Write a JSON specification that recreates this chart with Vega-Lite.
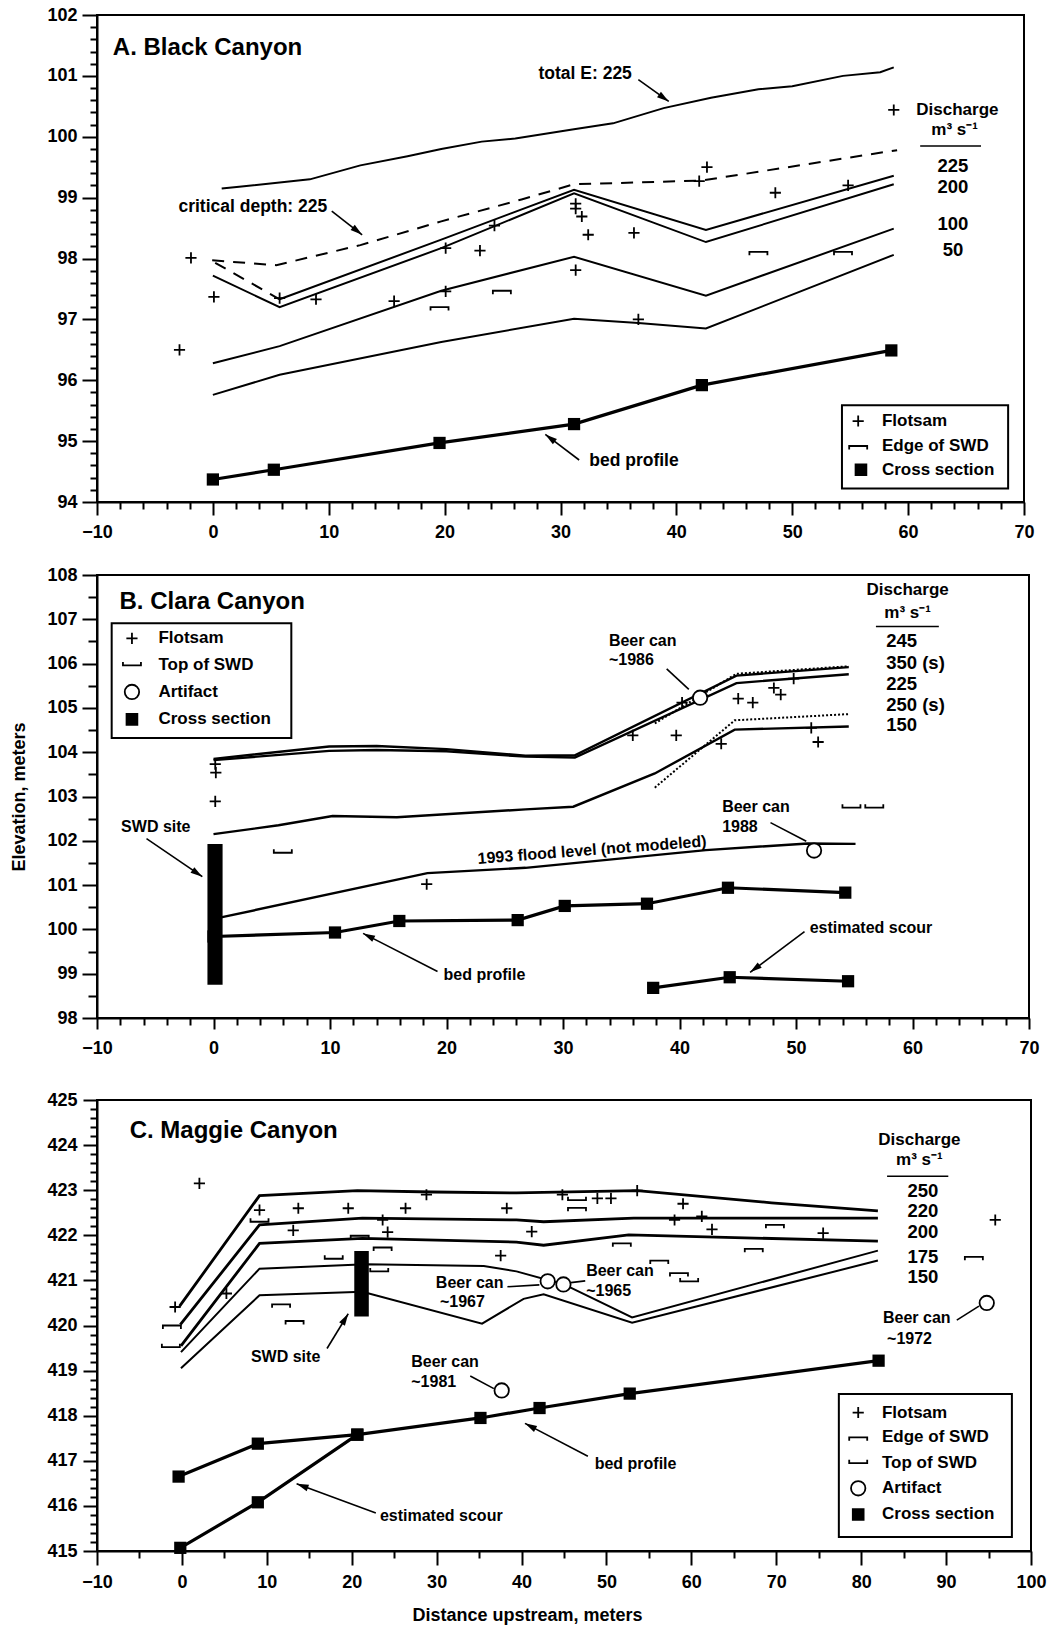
{
"$schema": "https://vega.github.io/schema/vega-lite/v6.json",
"background": "white",
"padding": {"left": 9, "top": 5, "right": 5, "bottom": 0},
"config": {
 "font": "Liberation Sans",
 "view": {"stroke": "black", "strokeWidth": 2},
 "axis": {"domainColor": "black", "domainWidth": 2, "tickColor": "black", "tickWidth": 2, "labelColor": "black", "labelFont": "Liberation Sans", "labelFontSize": 18, "labelFontWeight": "bold", "grid": false, "labelOverlap": false, "labelFlush": false, "titleFont": "Liberation Sans", "titleFontSize": 18, "titleFontWeight": "bold", "titleColor": "black", "format": "d"},
 "text": {"font": "Liberation Sans", "fontWeight": "bold", "color": "black", "baseline": "middle"},
 "concat": {"spacing": 23}
},
"datasets": {
 "A_ws": [
  {"s":"totalE","x":0.76,"y":99.15},{"s":"totalE","x":2.27,"y":99.18},{"s":"totalE","x":8.37,"y":99.3},{"s":"totalE","x":12.73,"y":99.53},{"s":"totalE","x":16.8,"y":99.68},{"s":"totalE","x":19.71,"y":99.8},{"s":"totalE","x":23.2,"y":99.92},{"s":"totalE","x":26.1,"y":99.97},{"s":"totalE","x":31.02,"y":100.12},{"s":"totalE","x":34.53,"y":100.22},{"s":"totalE","x":38.9,"y":100.47},{"s":"totalE","x":42.99,"y":100.64},{"s":"totalE","x":47.08,"y":100.78},{"s":"totalE","x":50,"y":100.83},{"s":"totalE","x":54.38,"y":101.0},{"s":"totalE","x":57.59,"y":101.06},{"s":"totalE","x":58.76,"y":101.14},
  {"s":"225","x":5.76,"y":97.33},{"s":"225","x":19.71,"y":98.31},{"s":"225","x":31.17,"y":99.13},{"s":"225","x":42.55,"y":98.47},{"s":"225","x":58.76,"y":99.36},
  {"s":"200","x":0,"y":97.72},{"s":"200","x":5.76,"y":97.2},{"s":"200","x":19.71,"y":98.17},{"s":"200","x":31.17,"y":99.07},{"s":"200","x":42.55,"y":98.27},{"s":"200","x":58.76,"y":99.22},
  {"s":"100","x":0,"y":96.28},{"s":"100","x":5.76,"y":96.56},{"s":"100","x":19.71,"y":97.47},{"s":"100","x":31.17,"y":98.03},{"s":"100","x":42.55,"y":97.39},{"s":"100","x":58.76,"y":98.49},
  {"s":"50","x":0,"y":95.76},{"s":"50","x":5.76,"y":96.09},{"s":"50","x":19.71,"y":96.63},{"s":"50","x":31.17,"y":97.01},{"s":"50","x":36.72,"y":96.94},{"s":"50","x":42.55,"y":96.85},{"s":"50","x":58.76,"y":98.06}
 ],
 "A_dash": [
  {"s":"crit","x":-0.06,"y":97.97},{"s":"crit","x":5.47,"y":97.89},{"s":"crit","x":12.73,"y":98.22},{"s":"crit","x":19.71,"y":98.61},{"s":"crit","x":26.64,"y":98.97},{"s":"crit","x":31.17,"y":99.22},{"s":"crit","x":42.2,"y":99.28},{"s":"crit","x":59.05,"y":99.78},
  {"s":"crit2","x":0.2,"y":97.93},{"s":"crit2","x":5.76,"y":97.33}
 ],
 "A_bed": [
  {"s":"bed","x":0,"y":94.37},{"s":"bed","x":5.26,"y":94.53},{"s":"bed","x":19.56,"y":94.97},{"s":"bed","x":31.17,"y":95.28},{"s":"bed","x":42.2,"y":95.92},{"s":"bed","x":58.55,"y":96.49}
 ],
 "A_pts": [
  {"k":"Flotsam","x":-1.89,"y":98.01},{"k":"Flotsam","x":0.09,"y":97.37},{"k":"Flotsam","x":-2.88,"y":96.5},{"k":"Flotsam","x":5.76,"y":97.35},{"k":"Flotsam","x":8.9,"y":97.33},{"k":"Flotsam","x":15.64,"y":97.3},{"k":"Flotsam","x":20.09,"y":98.17},{"k":"Flotsam","x":23.05,"y":98.13},{"k":"Flotsam","x":24.3,"y":98.54},{"k":"Flotsam","x":20.09,"y":97.46},{"k":"Flotsam","x":31.31,"y":98.9},{"k":"Flotsam","x":31.31,"y":98.82},{"k":"Flotsam","x":31.84,"y":98.69},{"k":"Flotsam","x":32.39,"y":98.39},{"k":"Flotsam","x":36.34,"y":98.42},{"k":"Flotsam","x":31.31,"y":97.81},{"k":"Flotsam","x":36.72,"y":97.0},{"k":"Flotsam","x":42.64,"y":99.5},{"k":"Flotsam","x":41.97,"y":99.27},{"k":"Flotsam","x":48.54,"y":99.08},{"k":"Flotsam","x":54.82,"y":99.2},{"k":"Flotsam","x":58.76,"y":100.44},
  {"k":"Edge of SWD","x":19.56,"y":97.2},{"k":"Edge of SWD","x":24.94,"y":97.47},{"k":"Edge of SWD","x":47.08,"y":98.11},{"k":"Edge of SWD","x":54.38,"y":98.11},
  {"k":"Flotsam","x":55.69,"y":95.33},{"k":"Edge of SWD","x":55.69,"y":94.92},{"k":"Cross section","x":55.93,"y":94.53}
 ],
 "A_box": [{"x":54.29,"x2":68.63,"y":95.59,"y2":94.22}],
 "A_line1": [{"x":61.04,"x2":66.29,"y":99.85}],
 "A_arr": [
  {"id":"a1","x":39.34,"y":100.58,"x2":36.72,"y2":100.94},
  {"id":"a2","x":12.88,"y":98.39,"x2":10.26,"y2":98.78},
  {"id":"a3","x":28.69,"y":95.11,"x2":31.61,"y2":94.69}
 ],
 "A_txt": [
  {"role":"title","x":-8.63,"y":101.45,"text":"A. Black Canyon"},
  {"role":"note","x":28.1,"y":101.03,"text":"total E: 225"},
  {"role":"note","x":-2.97,"y":98.85,"text":"critical depth: 225"},
  {"role":"note","x":32.48,"y":94.67,"text":"bed profile"},
  {"role":"disc","x":64.25,"y":100.44,"text":"Discharge"},
  {"role":"disc","x":64.01,"y":100.11,"text":"m³ s⁻¹"},
  {"role":"num","x":63.87,"y":99.52,"text":"225"},
  {"role":"num","x":63.87,"y":99.18,"text":"200"},
  {"role":"num","x":63.87,"y":98.56,"text":"100"},
  {"role":"num","x":63.87,"y":98.14,"text":"50"},
  {"role":"leg","x":57.74,"y":95.33,"text":"Flotsam"},
  {"role":"leg","x":57.74,"y":94.92,"text":"Edge of SWD"},
  {"role":"leg","x":57.74,"y":94.53,"text":"Cross section"}
 ],
 "B_ws": [
  {"s":"245","x":0,"y":103.85},{"s":"245","x":9.93,"y":104.13},{"s":"245","x":14,"y":104.14},{"s":"245","x":20,"y":104.07},{"s":"245","x":26.78,"y":103.92},{"s":"245","x":31.02,"y":103.93},{"s":"245","x":44.89,"y":105.73},{"s":"245","x":54.53,"y":105.92},
  {"s":"225","x":0,"y":103.82},{"s":"225","x":9.93,"y":104.03},{"s":"225","x":14,"y":104.05},{"s":"225","x":20,"y":104.02},{"s":"225","x":26.78,"y":103.9},{"s":"225","x":31.02,"y":103.88},{"s":"225","x":44.89,"y":105.56},{"s":"225","x":54.53,"y":105.76},
  {"s":"150","x":0,"y":102.15},{"s":"150","x":5.58,"y":102.35},{"s":"150","x":10.22,"y":102.56},{"s":"150","x":15.74,"y":102.53},{"s":"150","x":26.78,"y":102.71},{"s":"150","x":30.88,"y":102.77},{"s":"150","x":37.88,"y":103.52},{"s":"150","x":44.74,"y":104.51},{"s":"150","x":54.53,"y":104.58},
  {"s":"flood","x":0.64,"y":100.27},{"s":"flood","x":18.36,"y":101.27},{"s":"flood","x":26.78,"y":101.39},{"s":"flood","x":42.26,"y":101.79},{"s":"flood","x":51.02,"y":101.94},{"s":"flood","x":55.11,"y":101.93}
 ],
 "B_dot": [
  {"s":"350s","x":37.88,"y":104.65},{"s":"350s","x":44.89,"y":105.77},{"s":"350s","x":54.53,"y":105.94},
  {"s":"250s","x":37.88,"y":103.2},{"s":"250s","x":44.74,"y":104.72},{"s":"250s","x":54.53,"y":104.86}
 ],
 "B_bed": [
  {"s":"bed","x":0,"y":99.84},{"s":"bed","x":10.43,"y":99.93},{"s":"bed","x":15.95,"y":100.19},{"s":"bed","x":26.11,"y":100.21},{"s":"bed","x":30.15,"y":100.53},{"s":"bed","x":37.21,"y":100.58},{"s":"bed","x":44.16,"y":100.94},{"s":"bed","x":54.23,"y":100.83},
  {"s":"scour","x":37.74,"y":98.68},{"s":"scour","x":44.31,"y":98.92},{"s":"scour","x":54.47,"y":98.83}
 ],
 "B_pts": [
  {"k":"Flotsam","x":0.15,"y":103.73},{"k":"Flotsam","x":0.2,"y":103.54},{"k":"Flotsam","x":0.15,"y":102.89},{"k":"Flotsam","x":18.3,"y":101.02},{"k":"Flotsam","x":35.99,"y":104.38},{"k":"Flotsam","x":39.72,"y":104.38},{"k":"Flotsam","x":40.22,"y":105.12},{"k":"Flotsam","x":43.58,"y":104.19},{"k":"Flotsam","x":45.04,"y":105.21},{"k":"Flotsam","x":46.29,"y":105.12},{"k":"Flotsam","x":48.1,"y":105.45},{"k":"Flotsam","x":48.69,"y":105.3},{"k":"Flotsam","x":49.8,"y":105.66},{"k":"Flotsam","x":51.31,"y":104.55},{"k":"Flotsam","x":51.9,"y":104.23},
  {"k":"Top of SWD","x":5.95,"y":101.73},{"k":"Top of SWD","x":54.76,"y":102.75},{"k":"Top of SWD","x":56.72,"y":102.75},
  {"k":"Artifact","x":41.77,"y":105.23},{"k":"Artifact","x":51.55,"y":101.78},
  {"k":"Flotsam","x":-7.0,"y":106.57},{"k":"Top of SWD","x":-7.0,"y":105.96},{"k":"Artifact","x":-7.0,"y":105.36},{"k":"Cross section","x":-7.0,"y":104.74}
 ],
 "B_bar": [{"x":-0.52,"x2":0.78,"y":101.93,"y2":98.75}],
 "B_box": [{"x":-8.74,"x2":6.68,"y":106.91,"y2":104.32}],
 "B_line1": [{"x":56.86,"x2":62.26,"y":106.84}],
 "B_arr": [
  {"id":"b1","x":-0.96,"y":101.19,"x2":-5.75,"y2":102.05},
  {"id":"b2","x":12.84,"y":99.91,"x2":19.23,"y2":99.05},
  {"id":"b3","x":46.06,"y":99.03,"x2":50.73,"y2":99.95},
  {"id":"c1","x":40.8,"y":105.42,"x2":38.9,"y2":105.88},
  {"id":"c2","x":50.88,"y":101.99,"x2":47.81,"y2":102.41}
 ],
 "B_txt": [
  {"role":"title","x":-8.07,"y":107.38,"text":"B. Clara Canyon"},
  {"role":"leg","x":-4.73,"y":106.57,"text":"Flotsam"},
  {"role":"leg","x":-4.73,"y":105.96,"text":"Top of SWD"},
  {"role":"leg","x":-4.73,"y":105.36,"text":"Artifact"},
  {"role":"leg","x":-4.73,"y":104.74,"text":"Cross section"},
  {"role":"note","x":-7.93,"y":102.32,"text":"SWD site"},
  {"role":"note","x":19.75,"y":98.98,"text":"bed profile"},
  {"role":"note","x":51.17,"y":100.03,"text":"estimated scour"},
  {"role":"note","x":33.94,"y":106.52,"text":"Beer can"},
  {"role":"note","x":33.94,"y":106.07,"text":"~1986"},
  {"role":"note","x":43.66,"y":102.77,"text":"Beer can"},
  {"role":"note","x":43.66,"y":102.32,"text":"1988"},
  {"role":"flood","x":32.49,"y":101.79,"text":"1993 flood level (not modeled)"},
  {"role":"disc","x":59.58,"y":107.67,"text":"Discharge"},
  {"role":"disc","x":59.58,"y":107.14,"text":"m³ s⁻¹"},
  {"role":"numL","x":57.74,"y":106.51,"text":"245"},
  {"role":"numL","x":57.74,"y":106.02,"text":"350 (s)"},
  {"role":"numL","x":57.74,"y":105.53,"text":"225"},
  {"role":"numL","x":57.74,"y":105.06,"text":"250 (s)"},
  {"role":"numL","x":57.74,"y":104.61,"text":"150"}
 ],
 "C_thick": [
  {"s":"250","x":-0.27,"y":420.43},{"s":"250","x":9.14,"y":422.88},{"s":"250","x":20.66,"y":422.99},{"s":"250","x":29.6,"y":422.96},{"s":"250","x":39.4,"y":422.94},{"s":"250","x":53.62,"y":422.99},{"s":"250","x":69.44,"y":422.72},{"s":"250","x":81.97,"y":422.54},
  {"s":"220","x":-0.19,"y":420.02},{"s":"220","x":9.14,"y":422.23},{"s":"220","x":21.26,"y":422.38},{"s":"220","x":39.4,"y":422.34},{"s":"220","x":42.6,"y":422.3},{"s":"220","x":53.22,"y":422.38},{"s":"220","x":81.97,"y":422.38},
  {"s":"200","x":-0.11,"y":419.55},{"s":"200","x":9.14,"y":421.82},{"s":"200","x":21.26,"y":421.93},{"s":"200","x":39.4,"y":421.85},{"s":"200","x":42.6,"y":421.78},{"s":"200","x":52.62,"y":422.01},{"s":"200","x":81.97,"y":421.87}
 ],
 "C_thin": [
  {"s":"175","x":-0.11,"y":419.41},{"s":"175","x":9.14,"y":421.26},{"s":"175","x":21.65,"y":421.36},{"s":"175","x":35.55,"y":421.32},{"s":"175","x":39.4,"y":421.2},{"s":"175","x":45.0,"y":420.91},{"s":"175","x":53.02,"y":420.18},{"s":"175","x":81.97,"y":421.66},
  {"s":"150","x":-0.11,"y":419.05},{"s":"150","x":9.14,"y":420.67},{"s":"150","x":21.26,"y":420.75},{"s":"150","x":35.35,"y":420.04},{"s":"150","x":40.24,"y":420.59},{"s":"150","x":42.6,"y":420.69},{"s":"150","x":53.02,"y":420.06},{"s":"150","x":81.97,"y":421.44}
 ],
 "C_bed": [
  {"s":"bed","x":-0.39,"y":416.65},{"s":"bed","x":8.94,"y":417.38},{"s":"bed","x":20.66,"y":417.58},{"s":"bed","x":35.16,"y":417.95},{"s":"bed","x":42.12,"y":418.17},{"s":"bed","x":52.74,"y":418.49},{"s":"bed","x":82.05,"y":419.22},
  {"s":"scour","x":-0.19,"y":415.07},{"s":"scour","x":8.94,"y":416.08},{"s":"scour","x":20.66,"y":417.58}
 ],
 "C_pts": [
  {"k":"Flotsam","x":2.06,"y":423.15},{"k":"Flotsam","x":-0.8,"y":420.41},{"k":"Flotsam","x":5.24,"y":420.71},{"k":"Flotsam","x":9.14,"y":422.56},{"k":"Flotsam","x":13.71,"y":422.6},{"k":"Flotsam","x":19.59,"y":422.6},{"k":"Flotsam","x":26.34,"y":422.6},{"k":"Flotsam","x":28.8,"y":422.9},{"k":"Flotsam","x":13.11,"y":422.11},{"k":"Flotsam","x":23.64,"y":422.34},{"k":"Flotsam","x":24.23,"y":422.07},{"k":"Flotsam","x":37.54,"y":421.55},{"k":"Flotsam","x":38.26,"y":422.6},{"k":"Flotsam","x":44.81,"y":422.9},{"k":"Flotsam","x":48.93,"y":422.82},{"k":"Flotsam","x":50.53,"y":422.82},{"k":"Flotsam","x":53.62,"y":422.99},{"k":"Flotsam","x":59.02,"y":422.7},{"k":"Flotsam","x":58.02,"y":422.34},{"k":"Flotsam","x":61.23,"y":422.42},{"k":"Flotsam","x":62.43,"y":422.13},{"k":"Flotsam","x":41.2,"y":422.08},{"k":"Flotsam","x":75.52,"y":422.05},{"k":"Flotsam","x":95.79,"y":422.34},
  {"k":"Edge of SWD","x":-1.18,"y":420.0},{"k":"Edge of SWD","x":11.68,"y":420.47},{"k":"Edge of SWD","x":13.27,"y":420.1},{"k":"Edge of SWD","x":20.94,"y":421.99},{"k":"Edge of SWD","x":23.64,"y":421.73},{"k":"Edge of SWD","x":46.53,"y":422.61},{"k":"Edge of SWD","x":51.81,"y":421.82},{"k":"Edge of SWD","x":56.22,"y":421.44},{"k":"Edge of SWD","x":58.54,"y":421.16},{"k":"Edge of SWD","x":69.84,"y":422.23},{"k":"Edge of SWD","x":67.35,"y":421.7},{"k":"Edge of SWD","x":93.27,"y":421.52},
  {"k":"Top of SWD","x":-1.3,"y":419.52},{"k":"Top of SWD","x":17.88,"y":421.48},{"k":"Top of SWD","x":23.24,"y":421.2},{"k":"Top of SWD","x":9.14,"y":422.3},{"k":"Top of SWD","x":46.53,"y":422.78},{"k":"Top of SWD","x":59.74,"y":420.98},
  {"k":"Artifact","x":43.08,"y":420.98},{"k":"Artifact","x":44.93,"y":420.91},{"k":"Artifact","x":37.66,"y":418.56},{"k":"Artifact","x":94.79,"y":420.5},
  {"k":"Flotsam","x":79.65,"y":418.07},{"k":"Edge of SWD","x":79.65,"y":417.52},{"k":"Top of SWD","x":79.65,"y":416.95},{"k":"Artifact","x":79.65,"y":416.39},{"k":"Cross section","x":79.65,"y":415.81}
 ],
 "C_bar": [{"x":20.3,"x2":22.01,"y":421.65,"y2":420.2}],
 "C_box": [{"x":77.37,"x2":97.75,"y":418.48,"y2":415.31}],
 "C_line1": [{"x":83.05,"x2":90.26,"y":423.31}],
 "C_arr": [
  {"id":"e1","x":19.59,"y":420.26,"x2":17.09,"y2":419.49},
  {"id":"e2","x":40.4,"y":417.83,"x2":47.81,"y2":417.1},
  {"id":"e3","x":13.51,"y":416.49,"x2":22.84,"y2":415.84},
  {"id":"c1","x":42.1,"y":420.9,"x2":38.34,"y2":420.86},
  {"id":"c2","x":45.8,"y":420.95,"x2":47.5,"y2":420.99},
  {"id":"c3","x":93.87,"y":420.43,"x2":91.26,"y2":420.12},
  {"id":"c4","x":36.74,"y":418.6,"x2":33.96,"y2":418.88}
 ],
 "C_txt": [
  {"role":"title","x":-6.15,"y":424.31,"text":"C. Maggie Canyon"},
  {"role":"note","x":8.13,"y":419.31,"text":"SWD site"},
  {"role":"note","x":29.91,"y":420.95,"text":"Beer can"},
  {"role":"note","x":30.39,"y":420.51,"text":"~1967"},
  {"role":"note","x":47.61,"y":421.21,"text":"Beer can"},
  {"role":"note","x":47.61,"y":420.77,"text":"~1965"},
  {"role":"note","x":82.57,"y":420.16,"text":"Beer can"},
  {"role":"note","x":83.05,"y":419.71,"text":"~1972"},
  {"role":"note","x":27.01,"y":419.19,"text":"Beer can"},
  {"role":"note","x":27.01,"y":418.74,"text":"~1981"},
  {"role":"note","x":48.61,"y":416.93,"text":"bed profile"},
  {"role":"note","x":23.32,"y":415.78,"text":"estimated scour"},
  {"role":"disc","x":86.86,"y":424.11,"text":"Discharge"},
  {"role":"disc","x":86.86,"y":423.68,"text":"m³ s⁻¹"},
  {"role":"num","x":87.26,"y":422.99,"text":"250"},
  {"role":"num","x":87.26,"y":422.54,"text":"220"},
  {"role":"num","x":87.26,"y":422.08,"text":"200"},
  {"role":"num","x":87.26,"y":421.52,"text":"175"},
  {"role":"num","x":87.26,"y":421.08,"text":"150"},
  {"role":"leg","x":82.45,"y":418.07,"text":"Flotsam"},
  {"role":"leg","x":82.45,"y":417.52,"text":"Edge of SWD"},
  {"role":"leg","x":82.45,"y":416.95,"text":"Top of SWD"},
  {"role":"leg","x":82.45,"y":416.39,"text":"Artifact"},
  {"role":"leg","x":82.45,"y":415.81,"text":"Cross section"}
 ]
},
"vconcat": [
 {
  "width": 927, "height": 487,
  "resolve": {"axis": {"x": "independent", "y": "independent"}},
  "encoding": {
   "x": {"field": "x", "type": "quantitative", "scale": {"domain": [-10, 70], "nice": false, "zero": false}, "axis": null},
   "y": {"field": "y", "type": "quantitative", "scale": {"domain": [94, 102], "nice": false, "zero": false}, "axis": null}
  },
  "layer": [
   {"data": {"name": "A_ws"}, "mark": {"type": "line", "color": "black", "strokeWidth": 2},
    "encoding": {"detail": {"field": "s"},
     "x": {"field": "x", "type": "quantitative", "scale": {"domain": [-10, 70], "nice": false, "zero": false}, "axis": {"orient": "bottom", "title": null, "values": [-10,0,10,20,30,40,50,60,70], "tickSize": 13, "labelPadding": 8}},
     "y": {"field": "y", "type": "quantitative", "scale": {"domain": [94, 102], "nice": false, "zero": false}, "axis": {"orient": "left", "title": null, "values": [94,95,96,97,98,99,100,101,102], "tickSize": 15, "labelPadding": 5}}}},
   {"data": {"name": "A_dash"}, "mark": {"type": "line", "color": "black", "strokeWidth": 2, "strokeDash": [12, 9]},
    "encoding": {"detail": {"field": "s"},
     "x": {"field": "x", "type": "quantitative", "scale": {"domain": [-10, 70], "nice": false, "zero": false}, "axis": {"orient": "bottom", "title": null, "values": [-8,-6,-4,-2,2,4,6,8,12,14,16,18,22,24,26,28,32,34,36,38,42,44,46,48,52,54,56,58,62,64,66,68], "tickSize": 7, "labels": false, "domain": false}},
     "y": {"field": "y", "type": "quantitative", "scale": {"domain": [94, 102], "nice": false, "zero": false}, "axis": {"orient": "left", "title": null, "values": [94.2,94.4,94.6,94.8,95.2,95.4,95.6,95.8,96.2,96.4,96.6,96.8,97.2,97.4,97.6,97.8,98.2,98.4,98.6,98.8,99.2,99.4,99.6,99.8,100.2,100.4,100.6,100.8,101.2,101.4,101.6,101.8], "tickSize": 7, "labels": false, "domain": false}}}},
   {"data": {"name": "A_bed"}, "mark": {"type": "line", "color": "black", "strokeWidth": 3.2}, "encoding": {"detail": {"field": "s"}}},
   {"data": {"name": "A_bed"}, "mark": {"type": "square", "color": "black", "filled": true, "opacity": 1, "size": 150}},
   {"data": {"name": "A_box"}, "mark": {"type": "rect", "fill": "white", "stroke": "black", "strokeWidth": 2}, "encoding": {"x2": {"field": "x2"}, "y2": {"field": "y2"}}},
   {"data": {"name": "A_pts"}, "mark": {"type": "point", "filled": false, "stroke": "black", "strokeWidth": 1.8, "opacity": 1, "size": 324},
    "encoding": {
     "shape": {"field": "k", "type": "nominal", "legend": null, "scale": {"domain": ["Flotsam","Edge of SWD","Top of SWD","Artifact","Cross section"], "range": ["M-0.62,0L0.62,0M0,-0.62L0,0.62","M-1,0.38L-1,0L1,0L1,0.38","M-1,-0.38L-1,0L1,0L1,-0.38","M-0.8,0A0.8,0.8,0,1,0,0.8,0A0.8,0.8,0,1,0,-0.8,0Z","M-0.6,-0.6L0.6,-0.6L0.6,0.6L-0.6,0.6Z"]}},
     "fill": {"field": "k", "type": "nominal", "legend": null, "scale": {"domain": ["Flotsam","Edge of SWD","Top of SWD","Artifact","Cross section"], "range": ["transparent","transparent","transparent","white","black"]}}
    }},
   {"data": {"name": "A_arr"}, "mark": {"type": "rule", "color": "black", "strokeWidth": 1.6}, "encoding": {"x2": {"field": "x2"}, "y2": {"field": "y2"}}},
   {"data": {"name": "A_arr"}, "transform": [{"filter": {"field": "id", "equal": "a1"}}], "mark": {"type": "point", "shape": "M0,0L0.28,1L-0.28,1Z", "size": 576, "angle": 125.8, "filled": true, "color": "black", "opacity": 1, "strokeWidth": 0}},
   {"data": {"name": "A_arr"}, "transform": [{"filter": {"field": "id", "equal": "a2"}}], "mark": {"type": "point", "shape": "M0,0L0.28,1L-0.28,1Z", "size": 576, "angle": 128.1, "filled": true, "color": "black", "opacity": 1, "strokeWidth": 0}},
   {"data": {"name": "A_arr"}, "transform": [{"filter": {"field": "id", "equal": "a3"}}], "mark": {"type": "point", "shape": "M0,0L0.28,1L-0.28,1Z", "size": 576, "angle": -52.9, "filled": true, "color": "black", "opacity": 1, "strokeWidth": 0}},
   {"data": {"name": "A_line1"}, "mark": {"type": "rule", "color": "black", "strokeWidth": 1.5}, "encoding": {"x2": {"field": "x2"}}},
   {"data": {"name": "A_txt"}, "transform": [{"filter": {"field": "role", "equal": "title"}}], "mark": {"type": "text", "align": "left", "fontSize": 24}, "encoding": {"text": {"field": "text"}}},
   {"data": {"name": "A_txt"}, "transform": [{"filter": {"field": "role", "equal": "note"}}], "mark": {"type": "text", "align": "left", "fontSize": 17.5}, "encoding": {"text": {"field": "text"}}},
   {"data": {"name": "A_txt"}, "transform": [{"filter": {"field": "role", "equal": "disc"}}], "mark": {"type": "text", "align": "center", "fontSize": 17}, "encoding": {"text": {"field": "text"}}},
   {"data": {"name": "A_txt"}, "transform": [{"filter": {"field": "role", "equal": "num"}}], "mark": {"type": "text", "align": "center", "fontSize": 18.5}, "encoding": {"text": {"field": "text"}}},
   {"data": {"name": "A_txt"}, "transform": [{"filter": {"field": "role", "equal": "leg"}}], "mark": {"type": "text", "align": "left", "fontSize": 17}, "encoding": {"text": {"field": "text"}}}
  ]
 },
 {
  "width": 932, "height": 443,
  "resolve": {"axis": {"x": "independent", "y": "independent"}},
  "encoding": {
   "x": {"field": "x", "type": "quantitative", "scale": {"domain": [-10, 70], "nice": false, "zero": false}, "axis": null},
   "y": {"field": "y", "type": "quantitative", "scale": {"domain": [98, 108], "nice": false, "zero": false}, "axis": null}
  },
  "layer": [
   {"data": {"name": "B_ws"}, "mark": {"type": "line", "color": "black", "strokeWidth": 2.4},
    "encoding": {"detail": {"field": "s"},
     "x": {"field": "x", "type": "quantitative", "scale": {"domain": [-10, 70], "nice": false, "zero": false}, "axis": {"orient": "bottom", "title": " ", "titleFontSize": 8, "titlePadding": 1, "values": [-10,0,10,20,30,40,50,60,70], "tickSize": 11, "labelPadding": 10}},
     "y": {"field": "y", "type": "quantitative", "scale": {"domain": [98, 108], "nice": false, "zero": false}, "axis": {"orient": "left", "title": "Elevation, meters", "titlePadding": 18, "values": [98,99,100,101,102,103,104,105,106,107,108], "tickSize": 15, "labelPadding": 5}}}},
   {"data": {"name": "B_dot"}, "mark": {"type": "line", "color": "black", "strokeWidth": 2, "strokeDash": [2, 2]},
    "encoding": {"detail": {"field": "s"},
     "x": {"field": "x", "type": "quantitative", "scale": {"domain": [-10, 70], "nice": false, "zero": false}, "axis": {"orient": "bottom", "title": null, "values": [-8,-6,-4,-2,2,4,6,8,12,14,16,18,22,24,26,28,32,34,36,38,42,44,46,48,52,54,56,58,62,64,66,68], "tickSize": 7, "labels": false, "domain": false}},
     "y": {"field": "y", "type": "quantitative", "scale": {"domain": [98, 108], "nice": false, "zero": false}, "axis": {"orient": "left", "title": null, "values": [98.5,99.5,100.5,101.5,102.5,103.5,104.5,105.5,106.5,107.5], "tickSize": 9, "labels": false, "domain": false}}}},
   {"data": {"name": "B_bed"}, "mark": {"type": "line", "color": "black", "strokeWidth": 3.2}, "encoding": {"detail": {"field": "s"}}},
   {"data": {"name": "B_bed"}, "mark": {"type": "square", "color": "black", "filled": true, "opacity": 1, "size": 150}},
   {"data": {"name": "B_bar"}, "mark": {"type": "rect", "fill": "black"}, "encoding": {"x2": {"field": "x2"}, "y2": {"field": "y2"}}},
   {"data": {"name": "B_box"}, "mark": {"type": "rect", "fill": "white", "stroke": "black", "strokeWidth": 2}, "encoding": {"x2": {"field": "x2"}, "y2": {"field": "y2"}}},
   {"data": {"name": "B_pts"}, "mark": {"type": "point", "filled": false, "stroke": "black", "strokeWidth": 1.8, "opacity": 1, "size": 324},
    "encoding": {
     "shape": {"field": "k", "type": "nominal", "legend": null, "scale": {"domain": ["Flotsam","Edge of SWD","Top of SWD","Artifact","Cross section"], "range": ["M-0.62,0L0.62,0M0,-0.62L0,0.62","M-1,0.38L-1,0L1,0L1,0.38","M-1,-0.38L-1,0L1,0L1,-0.38","M-0.8,0A0.8,0.8,0,1,0,0.8,0A0.8,0.8,0,1,0,-0.8,0Z","M-0.6,-0.6L0.6,-0.6L0.6,0.6L-0.6,0.6Z"]}},
     "fill": {"field": "k", "type": "nominal", "legend": null, "scale": {"domain": ["Flotsam","Edge of SWD","Top of SWD","Artifact","Cross section"], "range": ["transparent","transparent","transparent","white","black"]}}
    }},
   {"data": {"name": "B_arr"}, "mark": {"type": "rule", "color": "black", "strokeWidth": 1.6}, "encoding": {"x2": {"field": "x2"}, "y2": {"field": "y2"}}},
   {"data": {"name": "B_arr"}, "transform": [{"filter": {"field": "id", "equal": "b1"}}], "mark": {"type": "point", "shape": "M0,0L0.28,1L-0.28,1Z", "size": 576, "angle": 124.4, "filled": true, "color": "black", "opacity": 1, "strokeWidth": 0}},
   {"data": {"name": "B_arr"}, "transform": [{"filter": {"field": "id", "equal": "b2"}}], "mark": {"type": "point", "shape": "M0,0L0.28,1L-0.28,1Z", "size": 576, "angle": -62.9, "filled": true, "color": "black", "opacity": 1, "strokeWidth": 0}},
   {"data": {"name": "B_arr"}, "transform": [{"filter": {"field": "id", "equal": "b3"}}], "mark": {"type": "point", "shape": "M0,0L0.28,1L-0.28,1Z", "size": 576, "angle": -126.9, "filled": true, "color": "black", "opacity": 1, "strokeWidth": 0}},
   {"data": {"name": "B_line1"}, "mark": {"type": "rule", "color": "black", "strokeWidth": 1.5}, "encoding": {"x2": {"field": "x2"}}},
   {"data": {"name": "B_txt"}, "transform": [{"filter": {"field": "role", "equal": "title"}}], "mark": {"type": "text", "align": "left", "fontSize": 24}, "encoding": {"text": {"field": "text"}}},
   {"data": {"name": "B_txt"}, "transform": [{"filter": {"field": "role", "equal": "leg"}}], "mark": {"type": "text", "align": "left", "fontSize": 17}, "encoding": {"text": {"field": "text"}}},
   {"data": {"name": "B_txt"}, "transform": [{"filter": {"field": "role", "equal": "note"}}], "mark": {"type": "text", "align": "left", "fontSize": 16}, "encoding": {"text": {"field": "text"}}},
   {"data": {"name": "B_txt"}, "transform": [{"filter": {"field": "role", "equal": "flood"}}], "mark": {"type": "text", "align": "center", "fontSize": 16, "angle": -4.4}, "encoding": {"text": {"field": "text"}}},
   {"data": {"name": "B_txt"}, "transform": [{"filter": {"field": "role", "equal": "disc"}}], "mark": {"type": "text", "align": "center", "fontSize": 17}, "encoding": {"text": {"field": "text"}}},
   {"data": {"name": "B_txt"}, "transform": [{"filter": {"field": "role", "equal": "numL"}}], "mark": {"type": "text", "align": "left", "fontSize": 18.5}, "encoding": {"text": {"field": "text"}}}
  ]
 },
 {
  "width": 934, "height": 451,
  "resolve": {"axis": {"x": "independent", "y": "independent"}},
  "encoding": {
   "x": {"field": "x", "type": "quantitative", "scale": {"domain": [-10, 100], "nice": false, "zero": false}, "axis": null},
   "y": {"field": "y", "type": "quantitative", "scale": {"domain": [415, 425], "nice": false, "zero": false}, "axis": null}
  },
  "layer": [
   {"data": {"name": "C_thick"}, "mark": {"type": "line", "color": "black", "strokeWidth": 2.8},
    "encoding": {"detail": {"field": "s"},
     "x": {"field": "x", "type": "quantitative", "scale": {"domain": [-10, 100], "nice": false, "zero": false}, "axis": {"orient": "bottom", "title": "Distance upstream, meters", "titleX": 430, "titlePadding": 15, "values": [-10,0,10,20,30,40,50,60,70,80,90,100], "tickSize": 14, "labelPadding": 8}},
     "y": {"field": "y", "type": "quantitative", "scale": {"domain": [415, 425], "nice": false, "zero": false}, "axis": {"orient": "left", "title": null, "values": [415,416,417,418,419,420,421,422,423,424,425], "tickSize": 14, "labelPadding": 6}}}},
   {"data": {"name": "C_thin"}, "mark": {"type": "line", "color": "black", "strokeWidth": 2},
    "encoding": {"detail": {"field": "s"},
     "x": {"field": "x", "type": "quantitative", "scale": {"domain": [-10, 100], "nice": false, "zero": false}, "axis": {"orient": "bottom", "title": null, "values": [-5,5,15,25,35,45,55,65,75,85,95], "tickSize": 7, "labels": false, "domain": false}},
     "y": {"field": "y", "type": "quantitative", "scale": {"domain": [415, 425], "nice": false, "zero": false}, "axis": {"orient": "left", "title": null, "values": [415.2,415.4,415.6,415.8,416.2,416.4,416.6,416.8,417.2,417.4,417.6,417.8,418.2,418.4,418.6,418.8,419.2,419.4,419.6,419.8,420.2,420.4,420.6,420.8,421.2,421.4,421.6,421.8,422.2,422.4,422.6,422.8,423.2,423.4,423.6,423.8,424.2,424.4,424.6,424.8], "tickSize": 7, "labels": false, "domain": false}}}},
   {"data": {"name": "C_bed"}, "mark": {"type": "line", "color": "black", "strokeWidth": 3.2}, "encoding": {"detail": {"field": "s"}}},
   {"data": {"name": "C_bed"}, "mark": {"type": "square", "color": "black", "filled": true, "opacity": 1, "size": 150}},
   {"data": {"name": "C_bar"}, "mark": {"type": "rect", "fill": "black"}, "encoding": {"x2": {"field": "x2"}, "y2": {"field": "y2"}}},
   {"data": {"name": "C_box"}, "mark": {"type": "rect", "fill": "white", "stroke": "black", "strokeWidth": 2}, "encoding": {"x2": {"field": "x2"}, "y2": {"field": "y2"}}},
   {"data": {"name": "C_pts"}, "mark": {"type": "point", "filled": false, "stroke": "black", "strokeWidth": 1.8, "opacity": 1, "size": 324},
    "encoding": {
     "shape": {"field": "k", "type": "nominal", "legend": null, "scale": {"domain": ["Flotsam","Edge of SWD","Top of SWD","Artifact","Cross section"], "range": ["M-0.62,0L0.62,0M0,-0.62L0,0.62","M-1,0.38L-1,0L1,0L1,0.38","M-1,-0.38L-1,0L1,0L1,-0.38","M-0.8,0A0.8,0.8,0,1,0,0.8,0A0.8,0.8,0,1,0,-0.8,0Z","M-0.6,-0.6L0.6,-0.6L0.6,0.6L-0.6,0.6Z"]}},
     "fill": {"field": "k", "type": "nominal", "legend": null, "scale": {"domain": ["Flotsam","Edge of SWD","Top of SWD","Artifact","Cross section"], "range": ["transparent","transparent","transparent","white","black"]}}
    }},
   {"data": {"name": "C_arr"}, "mark": {"type": "rule", "color": "black", "strokeWidth": 1.6}, "encoding": {"x2": {"field": "x2"}, "y2": {"field": "y2"}}},
   {"data": {"name": "C_arr"}, "transform": [{"filter": {"field": "id", "equal": "e1"}}], "mark": {"type": "point", "shape": "M0,0L0.28,1L-0.28,1Z", "size": 576, "angle": 31.2, "filled": true, "color": "black", "opacity": 1, "strokeWidth": 0}},
   {"data": {"name": "C_arr"}, "transform": [{"filter": {"field": "id", "equal": "e2"}}], "mark": {"type": "point", "shape": "M0,0L0.28,1L-0.28,1Z", "size": 576, "angle": -62.2, "filled": true, "color": "black", "opacity": 1, "strokeWidth": 0}},
   {"data": {"name": "C_arr"}, "transform": [{"filter": {"field": "id", "equal": "e3"}}], "mark": {"type": "point", "shape": "M0,0L0.28,1L-0.28,1Z", "size": 576, "angle": -69.6, "filled": true, "color": "black", "opacity": 1, "strokeWidth": 0}},
   {"data": {"name": "C_line1"}, "mark": {"type": "rule", "color": "black", "strokeWidth": 1.5}, "encoding": {"x2": {"field": "x2"}}},
   {"data": {"name": "C_txt"}, "transform": [{"filter": {"field": "role", "equal": "title"}}], "mark": {"type": "text", "align": "left", "fontSize": 24}, "encoding": {"text": {"field": "text"}}},
   {"data": {"name": "C_txt"}, "transform": [{"filter": {"field": "role", "equal": "note"}}], "mark": {"type": "text", "align": "left", "fontSize": 16}, "encoding": {"text": {"field": "text"}}},
   {"data": {"name": "C_txt"}, "transform": [{"filter": {"field": "role", "equal": "disc"}}], "mark": {"type": "text", "align": "center", "fontSize": 17}, "encoding": {"text": {"field": "text"}}},
   {"data": {"name": "C_txt"}, "transform": [{"filter": {"field": "role", "equal": "num"}}], "mark": {"type": "text", "align": "center", "fontSize": 18.5}, "encoding": {"text": {"field": "text"}}},
   {"data": {"name": "C_txt"}, "transform": [{"filter": {"field": "role", "equal": "leg"}}], "mark": {"type": "text", "align": "left", "fontSize": 17}, "encoding": {"text": {"field": "text"}}}
  ]
 }
]
}
